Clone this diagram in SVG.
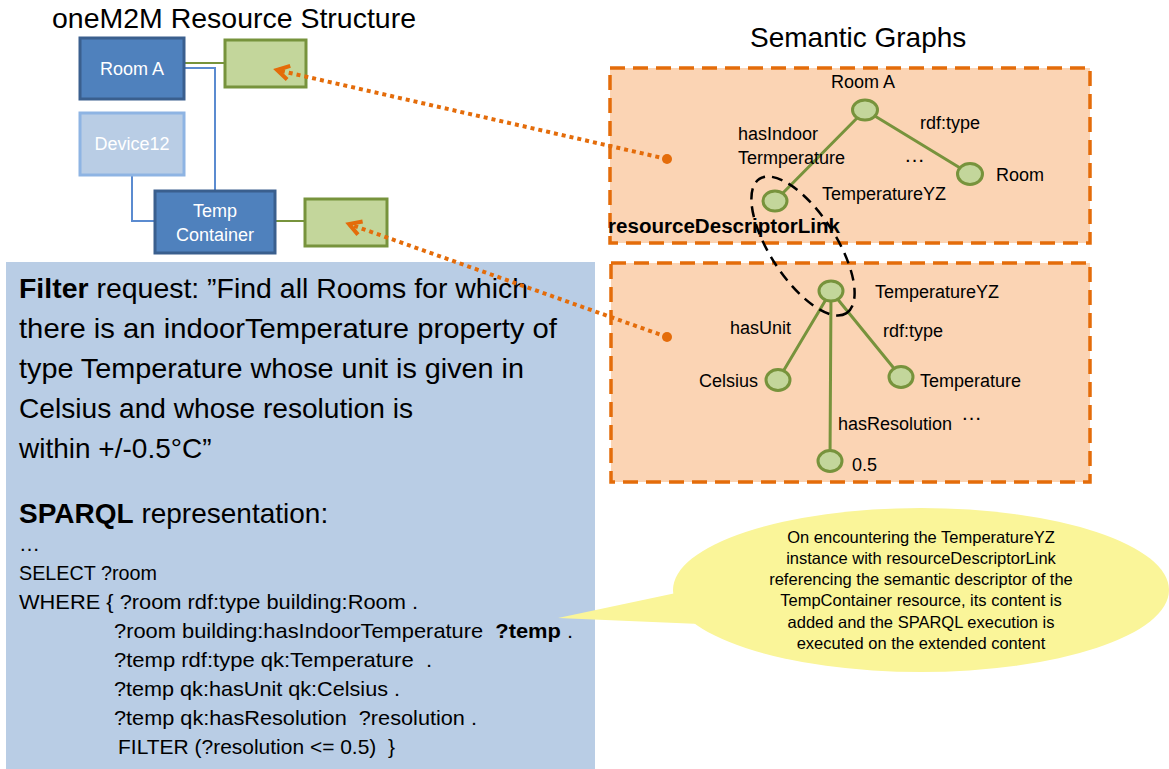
<svg xmlns="http://www.w3.org/2000/svg" width="1169" height="769" viewBox="0 0 1169 769">
<defs>
<style>
text{font-family:"Liberation Sans",Arial,sans-serif;fill:#000}
.title{font-size:28px}
.res{stroke-width:3}
.dark{fill:#4F81BD;stroke:#3A5F8E}
.light{fill:#B9CDE5;stroke:#8EB4E3}
.sd{fill:#C3D69B;stroke:#77933C;stroke-width:3}
.wt{fill:#fff;font-size:18px;text-anchor:middle}
.blue{fill:none;stroke:#5B8BD0;stroke-width:2}
.grn{fill:none;stroke:#77933C;stroke-width:2}
.edge{stroke:#77933C;stroke-width:3;fill:none}
.node{fill:#C3D69B;stroke:#77933C;stroke-width:3}
.gl{font-size:18px}
.ell{font-size:21px}
.obox{fill:#FBD4B4;stroke:#E46C0A;stroke-width:3.5;stroke-dasharray:15 8}
.dot{fill:none;stroke:#E46C0A;stroke-width:4;stroke-dasharray:4 4}
.big{font-size:28px}
.code{font-size:21px}
.co{font-size:16.5px;text-anchor:middle}
</style>
<marker id="chev" viewBox="0 0 20 20" refX="16" refY="10" markerWidth="20" markerHeight="20" markerUnits="userSpaceOnUse" orient="auto">
<path d="M4,3 L16,10 L4,17" fill="none" stroke="#E46C0A" stroke-width="4" stroke-linejoin="miter"/>
</marker>
<marker id="odot" viewBox="0 0 12 12" refX="6" refY="6" markerWidth="12" markerHeight="12" markerUnits="userSpaceOnUse">
<circle cx="6" cy="6" r="5" fill="#E46C0A"/>
</marker>
</defs>
<rect width="1169" height="769" fill="#fff"/>

<text class="title" x="52" y="28" textLength="364" lengthAdjust="spacingAndGlyphs">oneM2M Resource Structure</text>
<text class="title" x="750" y="47">Semantic Graphs</text>

<!-- resource structure links -->
<g id="resource-links">
<path class="grn" d="M184,63 H224"/>
<path class="blue" d="M184,68 H215 V190"/>
<path class="blue" d="M132,175 V221 H154"/>
<path class="grn" d="M275,221 H304"/>
</g>

<g id="roomA"><rect class="res dark" x="80" y="38" width="104" height="61"/><text class="wt" x="132" y="75">Room A</text></g>
<g id="sd1"><rect class="sd" x="225" y="40" width="81" height="47"/></g>
<g id="device12"><rect class="res light" x="80" y="113" width="104" height="62"/><text class="wt" x="132" y="150">Device12</text></g>
<g id="tempContainer"><rect class="res dark" x="155" y="191" width="120" height="62"/><text class="wt" x="215" y="217">Temp</text><text class="wt" x="215" y="241">Container</text></g>
<g id="sd2"><rect class="sd" x="305" y="199" width="82" height="47"/></g>

<!-- filter box -->
<g id="filter">
<rect x="6" y="262" width="589" height="507" fill="#B9CDE5"/>
<text class="big" x="19" y="298" textLength="509" lengthAdjust="spacingAndGlyphs"><tspan font-weight="bold">Filter</tspan> request: ”Find all Rooms for which</text>
<text class="big" x="19" y="338" textLength="538" lengthAdjust="spacingAndGlyphs">there is an indoorTemperature property of</text>
<text class="big" x="19" y="378" textLength="505" lengthAdjust="spacingAndGlyphs">type Temperature whose unit is given in</text>
<text class="big" x="19" y="418" textLength="394" lengthAdjust="spacingAndGlyphs">Celsius and whose resolution is</text>
<text class="big" x="19" y="458">within +/-0.5°C”</text>
<text class="big" x="19" y="523"><tspan font-weight="bold">SPARQL</tspan> representation:</text>
<text class="code" x="19" y="551">…</text>
<text class="code" x="19" y="580" textLength="138" lengthAdjust="spacingAndGlyphs">SELECT ?room</text>
<text class="code" x="19" y="609" textLength="399" lengthAdjust="spacingAndGlyphs">WHERE { ?room rdf:type building:Room .</text>
<text class="code" x="114" y="638" textLength="459" lengthAdjust="spacingAndGlyphs" xml:space="preserve">?room building:hasIndoorTemperature  <tspan font-weight="bold">?temp</tspan> .</text>
<text class="code" x="114" y="667" textLength="318" lengthAdjust="spacingAndGlyphs" xml:space="preserve">?temp rdf:type qk:Temperature  .</text>
<text class="code" x="114" y="696" textLength="286" lengthAdjust="spacingAndGlyphs">?temp qk:hasUnit qk:Celsius .</text>
<text class="code" x="114" y="725" textLength="363" lengthAdjust="spacingAndGlyphs" xml:space="preserve">?temp qk:hasResolution  ?resolution .</text>
<text class="code" x="118" y="754" textLength="277" lengthAdjust="spacingAndGlyphs" xml:space="preserve">FILTER (?resolution &lt;= 0.5)  }</text>
</g>

<!-- semantic graphs -->
<g id="graph1">
<rect class="obox" x="610" y="68" width="480" height="175"/>
<path class="edge" d="M865,110 L970,174 M865,110 L775,201"/>
<ellipse class="node" cx="865" cy="110" rx="12.5" ry="10"/>
<ellipse class="node" cx="970" cy="174" rx="12.5" ry="10.5"/>
<ellipse class="node" cx="775" cy="201" rx="12" ry="10"/>
<text class="gl" x="831" y="88">Room A</text>
<text class="gl" x="920" y="129">rdf:type</text>
<text class="gl" x="738" y="140">hasIndoor</text>
<text class="gl" x="738" y="164">Termperature</text>
<text class="ell" x="904" y="162">…</text>
<text class="gl" x="996" y="181">Room</text>
<text class="gl" x="822" y="200">TemperatureYZ</text>
</g>

<g id="graph2">
<rect class="obox" x="611" y="263" width="479" height="219"/>
<path class="edge" d="M831,291 L778,380 M831,291 L901,377 M831,291 L830,461"/>
<ellipse class="node" cx="831" cy="291" rx="12" ry="10"/>
<ellipse class="node" cx="778" cy="380" rx="12" ry="10.5"/>
<ellipse class="node" cx="901" cy="377" rx="12" ry="10.5"/>
<ellipse class="node" cx="830" cy="461" rx="12" ry="10.5"/>
<text class="gl" x="875" y="298">TemperatureYZ</text>
<text class="gl" x="730" y="334">hasUnit</text>
<text class="gl" x="883" y="337">rdf:type</text>
<text class="gl" x="699" y="387">Celsius</text>
<text class="gl" x="920" y="387">Temperature</text>
<text class="gl" x="838" y="430">hasResolution</text>
<text class="ell" x="961" y="420">…</text>
<text class="gl" x="852" y="471">0.5</text>
</g>

<g id="link-ellipse">
<ellipse cx="803" cy="246" rx="80" ry="33" transform="rotate(57 803 246)" fill="none" stroke="#000" stroke-width="2.5" stroke-dasharray="11 7"/>
<text x="608" y="233" font-size="20" font-weight="bold" textLength="232" lengthAdjust="spacingAndGlyphs">resourceDescriptorLink</text>
</g>

<!-- orange dotted connectors -->
<g id="connectors">
<path class="dot" d="M667,159 L277,70" marker-start="url(#odot)" marker-end="url(#chev)"/>
<path class="dot" d="M667,337 L349,224" marker-start="url(#odot)" marker-end="url(#chev)"/>
</g>

<!-- callout -->
<g id="callout">
<path d="M558,618 L676,593 L700,624 Z" fill="#FAF599"/>
<ellipse cx="921" cy="590" rx="248" ry="82" fill="#FAF599"/>
<text class="co" x="921" y="543">On encountering the TemperatureYZ</text>
<text class="co" x="921" y="564">instance with resourceDescriptorLink</text>
<text class="co" x="921" y="585">referencing the semantic descriptor of the</text>
<text class="co" x="921" y="606">TempContainer resource, its content is</text>
<text class="co" x="921" y="628">added and the SPARQL execution is</text>
<text class="co" x="921" y="649">executed on the extended content</text>
</g>
</svg>
